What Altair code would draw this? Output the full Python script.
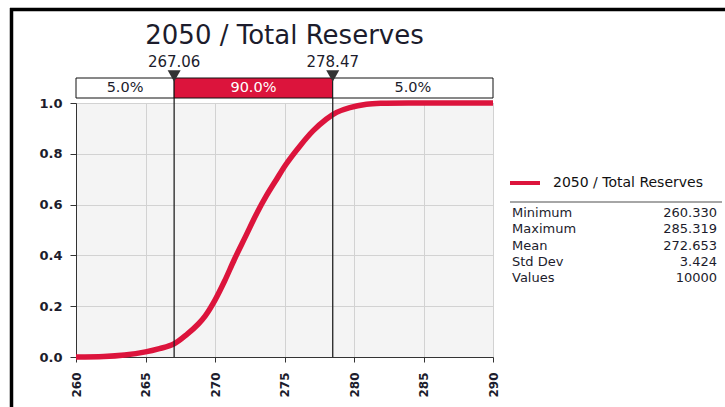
import altair as alt
import pandas as pd

# Cumulative probability curve for 2050 / Total Reserves
reserves = [260, 262, 263.5, 265, 266, 267, 268, 268.8, 269.3, 270, 270.7, 271.4,
            272.2, 273.0, 273.7, 274.4, 275.1, 276.1, 277.05, 278, 278.75, 279.7,
            280.9, 282, 285.3, 290]
cum_prob = [0.0, 0.002, 0.008, 0.02, 0.033, 0.05, 0.09, 0.13, 0.162, 0.224, 0.3,
            0.385, 0.475, 0.565, 0.635, 0.697, 0.758, 0.83, 0.89, 0.936, 0.963, 0.982,
            0.995, 0.999, 1.0, 1.0]

# Delimiters and the probability bands between them
delimiters = [267.06, 278.47]
delimiter_labels = ["267.06", "278.47"]
band_start = [260, 267.06, 278.47]
band_end = [267.06, 278.47, 290]
band_labels = ["5.0%", "90.0%", "5.0%"]
band_kind = ["tail", "body", "tail"]

# Summary statistics
stat_names = ["Minimum", "Maximum", "Mean", "Std Dev", "Values"]
stat_values = ["260.330", "285.319", "272.653", "3.424", "10000"]

title_text = "2050 / Total Reserves"
series_name = "2050 / Total Reserves"

RED = "#dc143c"
INK = "#1c1c2c"
FONT = "DejaVu Sans"

W, H = 417, 254
xscale = alt.Scale(domain=[260, 290], nice=False, zero=False)
xaxis = alt.Axis(values=[260, 265, 270, 275, 280, 285, 290], labelAngle=270,
                 tickSize=5, labelPadding=10, grid=True, gridColor="#d2d2d2",
                 domainColor="#333", tickColor="#333", labelFont=FONT,
                 labelFontSize=12, labelColor=INK, labelFontWeight="bold")


def xenc(field):
    return alt.X(field, scale=xscale, axis=xaxis, title=None)


curve_df = pd.DataFrame({"x": reserves, "p": cum_prob})
delim_df = pd.DataFrame({"x": delimiters, "label": delimiter_labels})
band_df = pd.DataFrame({
    "x0": band_start, "x1": band_end, "label": band_labels, "kind": band_kind,
    "mid": [(a + b) / 2 for a, b in zip(band_start, band_end)],
})
stats_df = pd.DataFrame({
    "name": stat_names, "value": stat_values,
    "row": list(range(len(stat_names))),
})

curve = alt.Chart(curve_df).mark_line(
    color=RED, strokeWidth=5.5, interpolate="catmull-rom"
).encode(
    x=xenc("x:Q"),
    y=alt.Y("p:Q", scale=alt.Scale(domain=[0, 1], nice=False), title=None,
            axis=alt.Axis(values=[0, 0.2, 0.4, 0.6, 0.8, 1.0], format=".1f",
                          tickSize=6, labelPadding=8, grid=True,
                          gridColor="#d2d2d2", domainColor="#333",
                          tickColor="#333", labelFont=FONT, labelFontSize=13,
                          labelColor=INK, labelFontWeight="bold")),
)

delim_lines = alt.Chart(delim_df).mark_rule(color="#222", strokeWidth=1.3).encode(
    x=xenc("x:Q"), y=alt.value(-25), y2=alt.value(H),
)

bands = alt.Chart(band_df).mark_rect(stroke="#111", strokeWidth=1).encode(
    x=xenc("x0:Q"), x2="x1:Q",
    y=alt.value(-25), y2=alt.value(-5),
    color=alt.Color("kind:N", scale=alt.Scale(domain=["tail", "body"],
                                              range=["#ffffff", RED]),
                    legend=None),
)

band_text = alt.Chart(band_df).mark_text(
    font=FONT, fontSize=14.5, baseline="middle"
).encode(
    x=xenc("mid:Q"), y=alt.value(-15), text="label:N",
    color=alt.Color("kind:N", scale=alt.Scale(domain=["tail", "body"],
                                              range=[INK, "#ffffff"]),
                    legend=None),
)

markers = alt.Chart(delim_df).mark_point(
    shape="triangle-down", filled=True, color="#333", size=170, opacity=1
).encode(x=xenc("x:Q"), y=alt.value(-27))

marker_text = alt.Chart(delim_df).mark_text(
    font=FONT, fontSize=15, color=INK, baseline="middle"
).encode(x=xenc("x:Q"), y=alt.value(-41), text="label:N")

title = alt.Chart(pd.DataFrame({"t": [title_text]})).mark_text(
    font=FONT, fontSize=26, color=INK, baseline="middle"
).encode(x=alt.value(W / 2), y=alt.value(-67), text="t:N")

# Outer frame (left and top edges)
frame_left = alt.Chart(pd.DataFrame({"a": [0]})).mark_rule(
    color="#000", strokeWidth=3.5
).encode(x=alt.value(-64.5), y=alt.value(-95), y2=alt.value(304))
frame_top = alt.Chart(pd.DataFrame({"a": [0]})).mark_rule(
    color="#000", strokeWidth=3.5
).encode(x=alt.value(-66), x2=alt.value(649), y=alt.value(-93.5))

# Legend and statistics panel
legend_line = alt.Chart(pd.DataFrame({"a": [0]})).mark_rule(
    color=RED, strokeWidth=4
).encode(x=alt.value(434), x2=alt.value(464), y=alt.value(80))
legend_text = alt.Chart(pd.DataFrame({"t": [series_name]})).mark_text(
    font=FONT, fontSize=14, color="#111", align="left", baseline="middle"
).encode(x=alt.value(477), y=alt.value(80), text="t:N")
separator = alt.Chart(pd.DataFrame({"a": [0]})).mark_rule(
    color="#888", strokeWidth=1.5
).encode(x=alt.value(434), x2=alt.value(646), y=alt.value(99))

row_y = alt.Y("row:O", scale=alt.Scale(type="point", padding=0,
                                       domain=list(range(len(stat_names))),
                                       range=[110, 175]), axis=None)
stat_name_text = alt.Chart(stats_df).mark_text(
    font=FONT, fontSize=13, color=INK, align="left", baseline="middle"
).encode(x=alt.value(436), y=row_y, text="name:N")
stat_value_text = alt.Chart(stats_df).mark_text(
    font=FONT, fontSize=13, color=INK, align="right", baseline="middle"
).encode(x=alt.value(641), y=row_y, text="value:N")

chart = alt.layer(
    curve, delim_lines, bands, band_text, markers, marker_text, title,
    frame_left, frame_top, legend_line, legend_text, separator,
    stat_name_text, stat_value_text,
).resolve_scale(y="independent", color="independent").properties(
    width=W, height=H,
    padding={"left": 76, "top": 103, "right": 232, "bottom": 50},
    autosize=alt.AutoSizeParams(type="none"),
    background="white",
).configure_view(fill="#f4f4f4", stroke="#aaa")

chart.save("out.html", embed_options={"renderer": "svg", "actions": False})
